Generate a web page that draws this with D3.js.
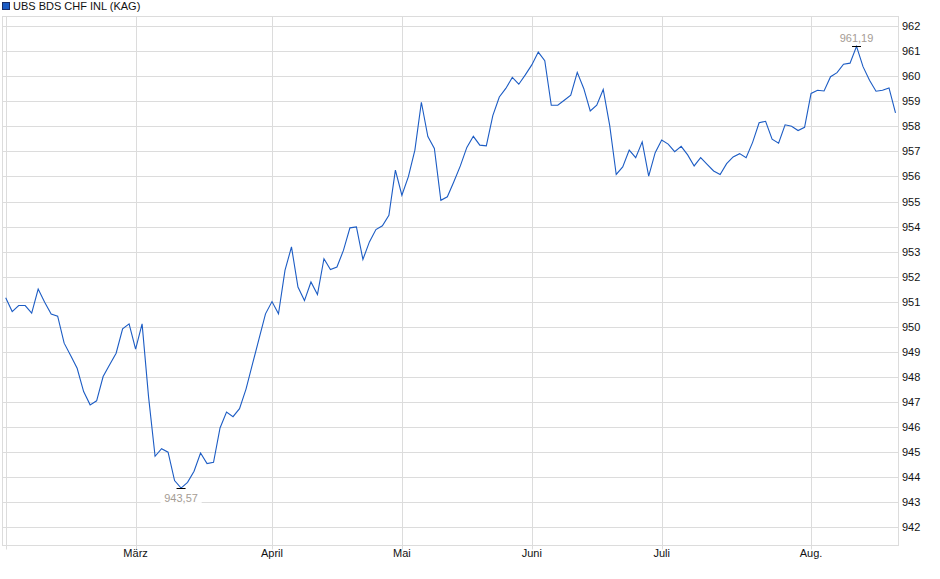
<!DOCTYPE html>
<html>
<head>
<meta charset="utf-8">
<script src="https://cdn.jsdelivr.net/npm/d3@7"></script>
<style>
  body { margin: 0; background: #fff; }
  svg { display: block; font-family: "Liberation Sans", Arial, sans-serif; }
</style>
</head>
<body>
<svg id="chart" width="940" height="579"></svg>
<script>
const seriesName = 'UBS BDS CHF INL (KAG)';

// daily closes, one per trading day
const prices = [
  951.16, 950.61, 950.85, 950.85, 950.55, 951.51, 950.98, 950.51, 950.43, 949.35,
  948.86, 948.35, 947.42, 946.89, 947.05, 948.02, 948.49, 948.95, 949.92, 950.12,
  949.11, 950.12, 947.20, 944.84, 945.14, 945.00, 943.87, 943.57, 943.80, 944.24,
  944.97, 944.55, 944.60, 945.97, 946.60, 946.42, 946.74, 947.52, 948.52, 949.52,
  950.52, 951.01, 950.52, 952.25, 953.19, 951.59, 951.05, 951.79, 951.29, 952.72,
  952.29, 952.39, 953.05, 953.95, 953.99, 952.69, 953.39, 953.88, 954.03, 954.45,
  956.25, 955.25, 955.99, 957.05, 958.96, 957.59, 957.12, 955.05, 955.19, 955.79,
  956.42, 957.16, 957.60, 957.25, 957.22, 958.43, 959.17, 959.51, 959.95, 959.68,
  960.05, 960.45, 960.96, 960.62, 958.84, 958.84, 959.04, 959.24, 960.15, 959.51,
  958.61, 958.84, 959.47, 958.03, 956.08, 956.38, 957.05, 956.75, 957.38, 956.01,
  956.95, 957.45, 957.29, 956.99, 957.20, 956.86, 956.42, 956.75, 956.48, 956.22,
  956.08, 956.51, 956.78, 956.91, 956.75, 957.36, 958.14, 958.20, 957.49, 957.33,
  958.06, 958.00, 957.83, 957.96, 959.31, 959.44, 959.41, 959.98, 960.14, 960.48,
  960.52, 961.19, 960.38, 959.84, 959.40, 959.44, 959.53, 958.54
];

// first trading day of each month (index into prices) and its label
const monthStarts = [0, 20, 41, 61, 81, 101, 124];
const monthLabels = ['', 'März', 'April', 'Mai', 'Juni', 'Juli', 'Aug.'];

const yTicks = d3.range(942, 963);

const svg = d3.select('#chart');
const plot = { left: 2.5, right: 898.5, top: 16.5, bottom: 545.5 };

const x = d3.scaleLinear().domain([0, prices.length - 1]).range([5.7, 895.5]);
const y = d3.scaleLinear().domain([941.3, 962.4]).range([545, 16]);

const de = d3.formatLocale({ decimal: ',', thousands: '.', grouping: [3], currency: ['', ' €'] });
const fmt = de.format('.2f');
const crisp = v => Math.round(v) + 0.5;

// grid

svg.append('g')
  .selectAll('line')
  .data(yTicks)
  .join('line')
  .attr('x1', plot.left).attr('x2', plot.right)
  .attr('y1', d => crisp(y(d))).attr('y2', d => crisp(y(d)))
  .attr('stroke', '#dcdcdc');

svg.append('g')
  .selectAll('line')
  .data(monthStarts)
  .join('line')
  .attr('x1', d => crisp(x(d))).attr('x2', d => crisp(x(d)))
  .attr('y1', plot.top).attr('y2', plot.bottom + 4)
  .attr('stroke', '#dcdcdc');

svg.append('rect')
  .attr('x', plot.left).attr('y', plot.top)
  .attr('width', plot.right - plot.left).attr('height', plot.bottom - plot.top)
  .attr('fill', 'none').attr('stroke', '#dcdcdc');

// axes labels

svg.append('g')
  .selectAll('text')
  .data(yTicks)
  .join('text')
  .attr('x', 902).attr('y', d => y(d) + 4)
  .attr('font-size', 11).attr('fill', '#111')
  .text(d => d);

svg.append('g')
  .selectAll('text')
  .data(monthStarts)
  .join('text')
  .attr('x', d => x(d)).attr('y', 557)
  .attr('text-anchor', 'middle')
  .attr('font-size', 11).attr('fill', '#111')
  .text((d, i) => monthLabels[i]);

// price line

const line = d3.line()
  .x((d, i) => x(i))
  .y(d => y(d));

svg.append('path')
  .datum(prices)
  .attr('d', line)
  .attr('fill', 'none')
  .attr('stroke', '#1c5cc4')
  .attr('stroke-width', 1.1);

// min / max markers

const iMin = d3.minIndex(prices);
const iMax = d3.maxIndex(prices);

function marker(i, above) {
  const cx = x(i), cy = y(prices[i]);
  svg.append('line')
    .attr('x1', cx - 4.5).attr('x2', cx + 4.5)
    .attr('y1', crisp(cy)).attr('y2', crisp(cy))
    .attr('stroke', '#000');
  const ty = above ? cy - 8 : cy + 10;
  const label = fmt(prices[i]);
  const w = label.length * 6.2 + 4;
  svg.append('rect')
    .attr('x', cx - w / 2).attr('y', ty - 6)
    .attr('width', w).attr('height', 12)
    .attr('fill', '#fff').attr('opacity', 0.9);
  svg.append('text')
    .attr('x', cx).attr('y', ty + 4)
    .attr('text-anchor', 'middle')
    .attr('font-size', 11).attr('fill', '#a59c94')
    .text(label);
}
marker(iMin, false);
marker(iMax, true);

// legend

svg.append('rect')
  .attr('x', 2.5).attr('y', 2.5).attr('width', 7).attr('height', 7)
  .attr('fill', '#1c5cc4').attr('stroke', '#1a2d66');
svg.append('text')
  .attr('x', 13).attr('y', 10)
  .attr('font-size', 11).attr('fill', '#111')
  .text(seriesName);
</script>
</body>
</html>
